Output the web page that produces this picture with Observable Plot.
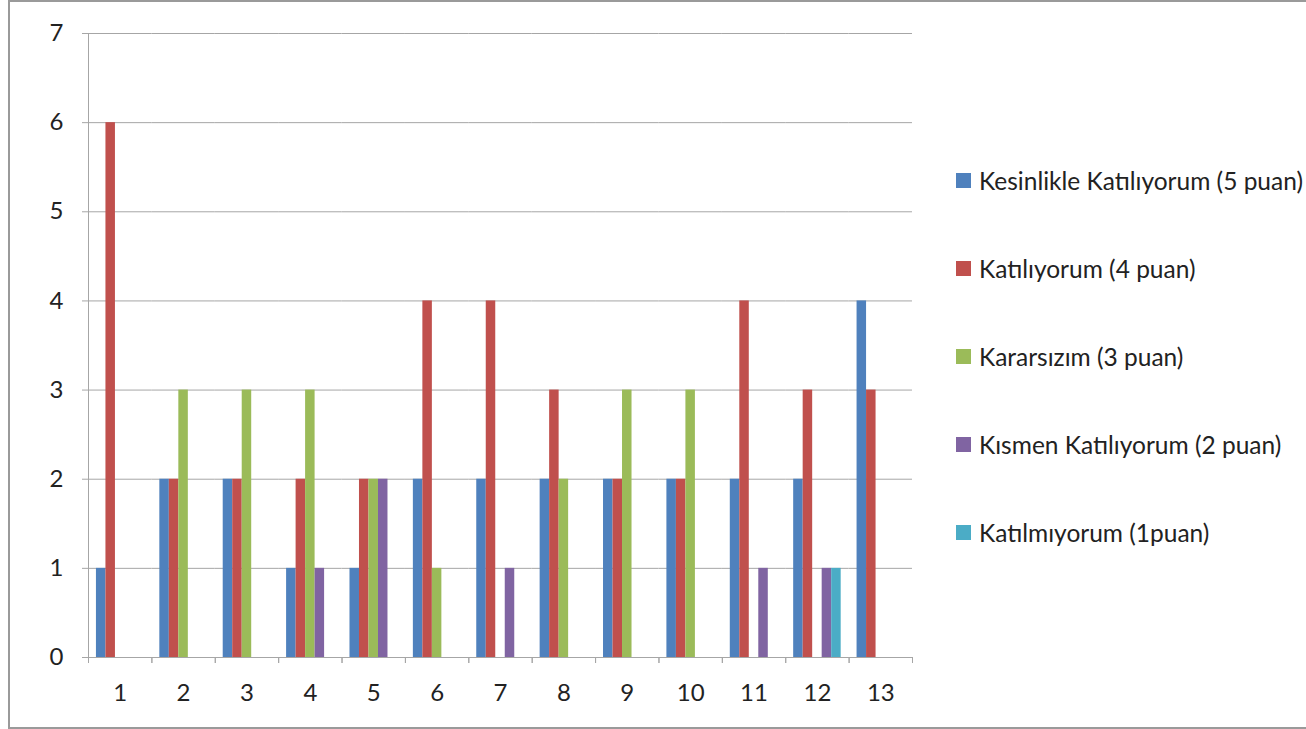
<!DOCTYPE html>
<html><head><meta charset="utf-8">
<script src="https://cdn.jsdelivr.net/npm/d3@7"></script>
<script src="https://cdn.jsdelivr.net/npm/@observablehq/plot@0.6"></script>
<style>
html,body{margin:0;padding:0;background:#fff;overflow:hidden;}
#wrap{position:relative;width:1306px;height:729px;font-family:Lato,sans-serif;}
#border{position:absolute;left:8px;top:0;width:1330px;height:729px;border:2px solid #9a9a9a;box-sizing:border-box;}
#chart{position:absolute;left:0;top:0;}
#legend{position:absolute;left:956px;top:136px;}
.item{height:88.2px;display:flex;align-items:center;font-size:24.5px;white-space:nowrap;color:#222;}
.sw{width:15px;height:15px;margin-right:8px;flex:none;}
</style></head>
<body><div id="wrap"><div id="border"></div><div id="chart"></div><div id="legend"></div></div>
<script>
const categories = ["1","2","3","4","5","6","7","8","9","10","11","12","13"];
const seriesNames = [
  "Kesinlikle Katılıyorum (5 puan)",
  "Katılıyorum (4 puan)",
  "Kararsızım (3 puan)",
  "Kısmen Katılıyorum (2 puan)",
  "Katılmıyorum (1puan)"
];
const seriesColors = ["#4F81BD","#C0504D","#9BBB59","#8064A2","#4BACC6"];
const kesinlikle   = [1,2,2,1,1,2,2,2,2,2,2,2,4];
const katiliyorum  = [6,2,2,2,2,4,4,3,2,2,4,3,3];
const kararsizim   = [0,3,3,3,2,1,0,2,3,3,0,0,0];
const kismen       = [0,0,0,1,2,0,1,0,0,0,1,1,0];
const katilmiyorum = [0,0,0,0,0,0,0,0,0,0,0,1,0];
const yTicks = [0,1,2,3,4,5,6,7];

const seriesValues = [kesinlikle, katiliyorum, kararsizim, kismen, katilmiyorum];
const rows = [];
categories.forEach((c, i) => {
  seriesNames.forEach((s, k) => {
    const v = seriesValues[k][i];
    if (v > 0) rows.push({cat: c, series: s, value: v});
  });
});

const W = 1306, H = 729, mL = 88, mR = 394, mT = 33, mB = 72;
const groupW = (W - mL - mR) / categories.length;
const gray = "#a6a6a6";

const chart = Plot.plot({
  width: W, height: H,
  marginLeft: mL, marginRight: mR, marginTop: mT, marginBottom: mB,
  style: {fontFamily: "Lato, sans-serif", fontSize: "24px", color: "#222", background: "transparent"},
  fx: {domain: categories, padding: 0, round: false, label: null},
  x: {domain: seriesNames, paddingInner: 0, paddingOuter: 0.836, round: false, axis: null},
  y: {domain: [0, 7], label: null},
  color: {domain: seriesNames, range: seriesColors},
  marks: [
    Plot.gridY(yTicks, {stroke: gray, strokeOpacity: 1}),
    Plot.barY(rows, {fx: "cat", x: "series", y: "value", fill: "series"}),
    Plot.ruleY([0], {stroke: gray}),
    Plot.frame({anchor: "left", facetAnchor: "left", stroke: gray}),
    Plot.axisY(yTicks, {tickSize: 6, tickPadding: 19, tickFormat: d3.format("d"), stroke: gray, fill: "#222", label: null}),
    Plot.axisFx({anchor: "bottom", tickSize: 0, tickPadding: 26, fill: "#222", label: null}),
    Plot.axisFx({anchor: "bottom", tickSize: 6, tickFormat: () => "", dx: -groupW / 2, stroke: gray, label: null}),
    Plot.axisFx([categories[categories.length - 1]], {anchor: "bottom", tickSize: 6, tickFormat: () => "", dx: groupW / 2, stroke: gray, label: null})
  ]
});
document.getElementById("chart").appendChild(chart);

const legend = document.getElementById("legend");
seriesNames.forEach((s, k) => {
  const item = document.createElement("div");
  item.className = "item";
  const sw = document.createElement("span");
  sw.className = "sw";
  sw.style.background = seriesColors[k];
  item.appendChild(sw);
  item.appendChild(document.createTextNode(s));
  legend.appendChild(item);
});
</script>
</body></html>
